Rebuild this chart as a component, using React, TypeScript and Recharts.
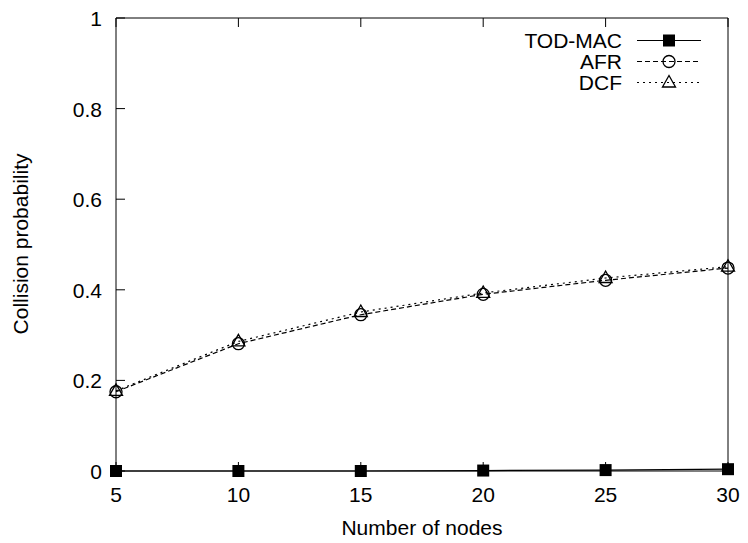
import { LineChart, Line, XAxis, YAxis } from "recharts";

// values
const nodes = [5, 10, 15, 20, 25, 30];
const todMac = [0, 0, 0, 0.001, 0.002, 0.004];
const afr = [0.175, 0.281, 0.345, 0.39, 0.421, 0.448];
const dcf = [0.177, 0.286, 0.351, 0.393, 0.426, 0.451];

const xTicks = [5, 10, 15, 20, 25, 30];
const yTicks = [0, 0.2, 0.4, 0.6, 0.8, 1];

const data = nodes.map((n, i) => ({
  n,
  todMac: todMac[i],
  afr: afr[i],
  dcf: dcf[i],
}));

const FONT = '"Liberation Sans", Arial, Helvetica, sans-serif';
const FS = 21;

type Marker = "square" | "circle" | "triangle";

const series: { key: string; name: string; dash?: string; marker: Marker }[] = [
  { key: "todMac", name: "TOD-MAC", marker: "square" },
  { key: "afr", name: "AFR", dash: "5 3", marker: "circle" },
  { key: "dcf", name: "DCF", dash: "2 4", marker: "triangle" },
];

const drawMarker = (m: Marker, cx: number, cy: number, key?: string) => {
  if (m === "square")
    return <rect key={key} x={cx - 6} y={cy - 6} width={12} height={12} fill="#000" />;
  if (m === "circle")
    return <circle key={key} cx={cx} cy={cy} r={6} fill="none" stroke="#000" strokeWidth={1.3} />;
  return (
    <polygon
      key={key}
      points={`${cx},${cy - 7} ${cx - 6.5},${cy + 4.5} ${cx + 6.5},${cy + 4.5}`}
      fill="none"
      stroke="#000"
      strokeWidth={1.3}
    />
  );
};

const BottomTick = ({ x, y, payload }: any) => (
  <g>
    <line x1={x} x2={x} y1={y} y2={y - 9} stroke="#000" />
    <text x={x} y={y + 31} textAnchor="middle" fontSize={FS} fontFamily={FONT} fill="#000">
      {payload.value}
    </text>
  </g>
);

const TopTick = ({ x, y }: any) => <line x1={x} x2={x} y1={y} y2={y + 9} stroke="#000" />;

const LeftTick = ({ x, y, payload }: any) => (
  <g>
    <line x1={x} x2={x + 9} y1={y} y2={y} stroke="#000" />
    <text x={x - 14} y={y + 8} textAnchor="end" fontSize={FS} fontFamily={FONT} fill="#000">
      {payload.value}
    </text>
  </g>
);

const RightTick = ({ x, y }: any) => <line x1={x} x2={x - 9} y1={y} y2={y} stroke="#000" />;

const LegendBox = () => (
  <div
    style={{
      position: "absolute",
      top: 30,
      left: 500,
      fontFamily: FONT,
      fontSize: FS,
      color: "#000",
    }}
  >
    {series.map((s) => (
      <div key={s.key} style={{ display: "flex", alignItems: "center", height: 21 }}>
        <span style={{ width: 122, textAlign: "right", lineHeight: "21px" }}>{s.name}</span>
        <svg width={66} height={21} style={{ marginLeft: 15 }}>
          <line x1={0} x2={64} y1={10.5} y2={10.5} stroke="#000" strokeDasharray={s.dash} />
          {drawMarker(s.marker, 32, 10.5)}
        </svg>
      </div>
    ))}
  </div>
);

export default function App() {
  return (
    <div style={{ position: "relative", width: 748, height: 543 }}>
      <style>{`body{margin:0;background:#fff}`}</style>
      <LineChart
        width={748}
        height={543}
        data={data}
        margin={{ top: 17, right: 19, bottom: 0, left: 0 }}
      >
        <XAxis
          dataKey="n"
          type="number"
          domain={[5, 30]}
          ticks={xTicks}
          interval={0}
          height={72}
          tickSize={0}
          tickMargin={0}
          tickLine={false}
          axisLine={{ stroke: "#000" }}
          tick={(p: any) => <BottomTick {...p} />}
          label={() => (
            <text x={422} y={535} textAnchor="middle" fontSize={FS} fontFamily={FONT} fill="#000">
              Number of nodes
            </text>
          )}
        />
        <XAxis
          xAxisId="top"
          orientation="top"
          dataKey="n"
          type="number"
          domain={[5, 30]}
          ticks={xTicks}
          interval={0}
          height={1}
          tickSize={0}
          tickMargin={0}
          tickLine={false}
          axisLine={{ stroke: "#000" }}
          tick={(p: any) => <TopTick {...p} />}
        />
        <YAxis
          type="number"
          domain={[0, 1]}
          ticks={yTicks}
          interval={0}
          width={116}
          tickSize={0}
          tickMargin={0}
          tickLine={false}
          axisLine={{ stroke: "#000" }}
          tick={(p: any) => <LeftTick {...p} />}
          label={() => (
            <text
              x={28}
              y={244}
              transform="rotate(-90 28 244)"
              textAnchor="middle"
              fontSize={FS}
              fontFamily={FONT}
              fill="#000"
            >
              Collision probability
            </text>
          )}
        />
        <YAxis
          yAxisId="right"
          orientation="right"
          type="number"
          domain={[0, 1]}
          ticks={yTicks}
          interval={0}
          width={1}
          tickSize={0}
          tickMargin={0}
          tickLine={false}
          axisLine={{ stroke: "#000" }}
          tick={(p: any) => <RightTick {...p} />}
        />
        {series.map((s) => (
          <Line
            key={s.key}
            dataKey={s.key}
            name={s.name}
            type="linear"
            stroke="#000"
            strokeWidth={1.2}
            strokeDasharray={s.dash}
            isAnimationActive={false}
            dot={(p: any) => drawMarker(s.marker, p.cx, p.cy, `${s.key}-${p.index}`)}
            activeDot={false}
          />
        ))}
      </LineChart>
      <LegendBox />
    </div>
  );
}
